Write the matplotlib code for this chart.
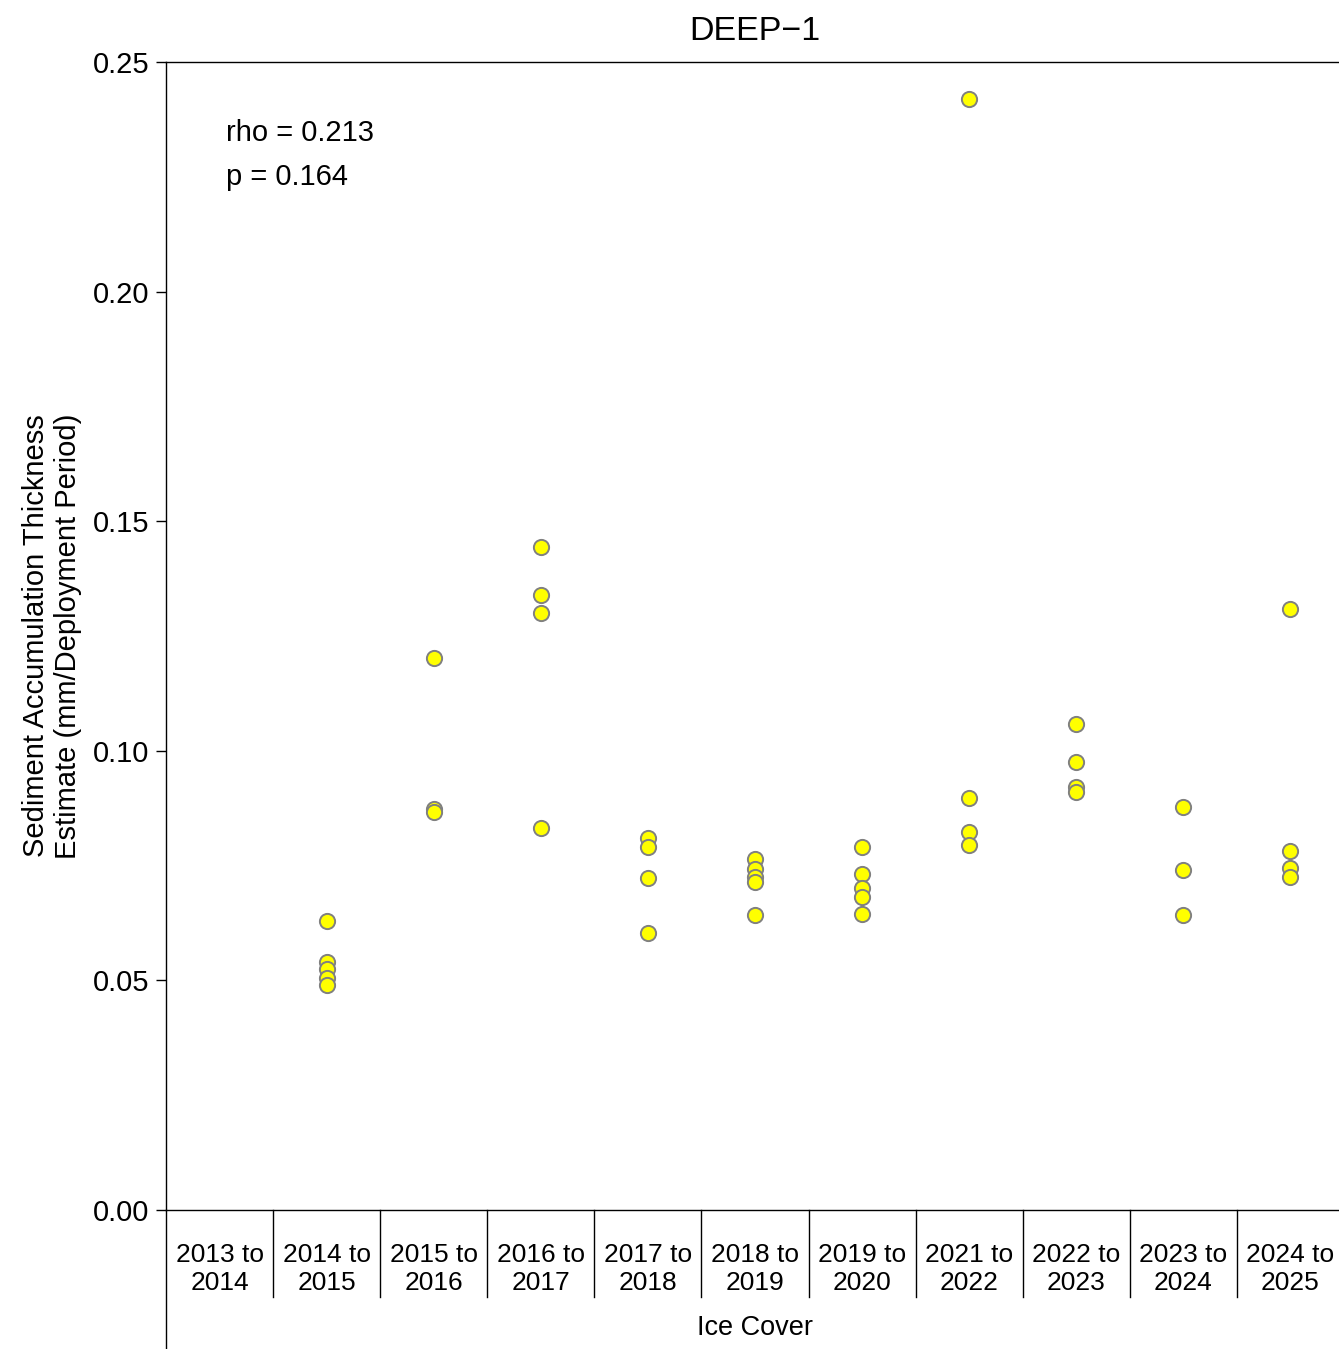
import matplotlib
matplotlib.use("Agg")
import matplotlib.pyplot as plt
import matplotlib.transforms as mtransforms

plt.rcParams['font.family'] = ['Liberation Sans', 'DejaVu Sans']

# categories (ice cover periods)
periods = ['2013 to\n2014', '2014 to\n2015', '2015 to\n2016', '2016 to\n2017',
           '2017 to\n2018', '2018 to\n2019', '2019 to\n2020', '2021 to\n2022',
           '2022 to\n2023', '2023 to\n2024', '2024 to\n2025']

# sediment accumulation values (mm/deployment period)
vals_2013 = []
vals_2014 = [0.0630, 0.0541, 0.0525, 0.0505, 0.0489]
vals_2015 = [0.1202, 0.0873, 0.0867]
vals_2016 = [0.1444, 0.1339, 0.1300, 0.0832]
vals_2017 = [0.0810, 0.0791, 0.0722, 0.0603]
vals_2018 = [0.0764, 0.0743, 0.0725, 0.0715, 0.0643]
vals_2019 = [0.0791, 0.0731, 0.0701, 0.0682, 0.0645]
vals_2021 = [0.2420, 0.0898, 0.0824, 0.0795]
vals_2022 = [0.1058, 0.0976, 0.0922, 0.0910]
vals_2023 = [0.0878, 0.0741, 0.0642]
vals_2024 = [0.1309, 0.0781, 0.0744, 0.0726]

groups = [vals_2013, vals_2014, vals_2015, vals_2016, vals_2017, vals_2018,
          vals_2019, vals_2021, vals_2022, vals_2023, vals_2024]

rho_text = 'rho = 0.213'
p_text = 'p = 0.164'

fig = plt.figure(figsize=(13.39, 13.49), dpi=100)
ax = fig.add_axes([166/1339, 1 - 1210/1349, 1178/1339, (1210 - 62)/1349])

for i, g in enumerate(groups):
    if len(g) == 0:
        continue
    ax.scatter([i]*len(g), g, s=120, color='#FFFF00', edgecolor='#808080',
               linewidth=1.4, zorder=3, clip_on=False)

ax.set_xlim(-0.5, len(periods) - 0.5)
ax.set_ylim(0, 0.25)
ax.set_yticks([0, 0.05, 0.10, 0.15, 0.20, 0.25])
ax.set_yticklabels(['0.00', '0.05', '0.10', '0.15', '0.20', '0.25'])
ax.tick_params(axis='y', labelsize=21, length=7, width=1, pad=5)
ax.set_xticks([])

for s in ['left', 'top', 'bottom']:
    ax.spines[s].set_linewidth(1)
ax.spines['right'].set_visible(False)

# grouped x labels with separators below the axis
trans = mtransforms.blended_transform_factory(ax.transData, ax.transAxes)
for i, lab in enumerate(periods):
    ax.text(i, -0.0515, lab, transform=trans, ha='center', va='center',
            fontsize=19, linespacing=1.2)
for i in range(len(periods) - 1):
    ax.plot([i + 0.5, i + 0.5], [0, -0.0758], transform=trans, color='black',
            linewidth=1, clip_on=False)
# left spine extended down
ax.plot([0, 0], [0, -0.125], transform=ax.transAxes, color='black',
        linewidth=1, clip_on=False)

ax.text(0.5, -0.1025, 'Ice Cover', transform=ax.transAxes, ha='center',
        va='center', fontsize=19.5)

ax.set_ylabel('Sediment Accumulation Thickness\nEstimate (mm/Deployment Period)',
              fontsize=21, labelpad=8, linespacing=1.15)
ax.set_title('DEEP\u22121', fontsize=24.5, pad=16)

ax.text(0.051, 0.938, rho_text, transform=ax.transAxes, fontsize=21,
        ha='left', va='center')
ax.text(0.051, 0.900, p_text, transform=ax.transAxes, fontsize=21,
        ha='left', va='center')

fig.savefig('out.png', dpi=100)
